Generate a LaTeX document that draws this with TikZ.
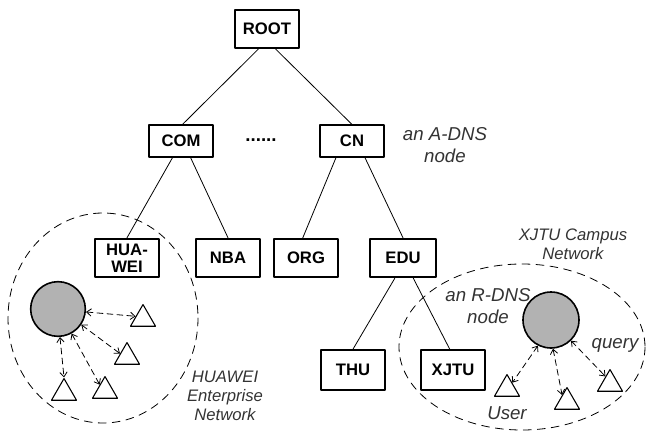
\documentclass[tikz,border=0pt]{standalone}
\usepackage{fontspec}
\setmainfont{Liberation Sans}
\usepackage{tikz}
\usetikzlibrary{arrows.meta,shapes.geometric}

\tikzset{
  dnsbox/.style={draw,line width=1.3pt,font=\fontsize{12.5}{12.5}\selectfont\bfseries,align=center,inner sep=0pt,minimum width=48pt,minimum height=29pt},
  server/.style={circle,draw,line width=1.2pt,fill=black!30,minimum size=41pt,inner sep=0pt},
  host/.style={regular polygon,regular polygon sides=3,draw,line width=0.8pt,minimum size=21.7pt,inner sep=0pt},
  note/.style={font=\fontsize{14}{16.5}\selectfont\itshape,text=black!80,align=center,inner sep=0pt},
  netnote/.style={font=\fontsize{12.5}{14.3}\selectfont\itshape,text=black!80,align=center,inner sep=0pt},
  query/.style={<->,dash pattern=on 4.5pt off 3pt,line width=0.6pt},
  netline/.style={dash pattern=on 6pt off 4.5pt,line width=0.6pt},
  tree/.style={line width=0.6pt}
}

\begin{document}
\begin{tikzpicture}[line cap=round,line join=round,>={Straight Barb[length=3.5pt,width=5.5pt]},x=0.75pt,y=-0.75pt]
        \useasboundingbox (0,0) rectangle (646,431);
        \draw [netline] (103,318) ellipse [x radius=95,y radius=105];
        \draw [netline] (522,347) ellipse [x radius=123,y radius=83];
        \node [dnsbox,minimum height=28.5pt] (root) at (267,29) {ROOT};
        \node [dnsbox,minimum height=23.5pt] (com) at (181,141) {COM};
        \node [dnsbox,minimum height=23.5pt] (cn) at (352,141) {CN};
        \node [dnsbox] (huawei) at (127,258) {HUA-\\WEI};
        \node [dnsbox] (nba) at (228,258) {NBA};
        \node [dnsbox] (org) at (306,258) {ORG};
        \node [dnsbox,minimum width=49pt] (edu) at (403,258) {EDU};
        \node [dnsbox,minimum height=30pt] (thu) at (353,370) {THU};
        \node [dnsbox,minimum height=30pt] (xjtu) at (453,370) {XJTU};
        \node [font=\fontsize{14}{14}\selectfont\bfseries] (dots) at (261,140) {......};
        \draw [tree] (root.-113) -- (com.85);
        \draw [tree] (root.-67) -- (cn.north);
        \draw [tree] (com.-117) -- (huawei.north);
        \draw [tree] (com.-60) -- (nba.north);
        \draw [tree] (cn.-134) -- (org.99);
        \draw [tree] (cn.-52) -- (edu.north);
        \draw [tree] (edu.-112) -- (thu.north);
        \draw [tree] (edu.-63) -- (xjtu.99);
        \node [server] (hwserver) at (58,309) {};
        \node [host] (t1) at (143,319) {};
        \node [host] (t2) at (127,357) {};
        \node [host] (t3) at (105,391) {};
        \node [host] (t4) at (64,393) {};
        \draw [query] (hwserver.-6) -- (t1.160);
        \draw [query] (hwserver.-34) -- (t2.154);
        \draw [query] (hwserver.-61) -- (t3.130);
        \draw [query] (hwserver.-86) -- (t4.corner 1);
        \node [server,minimum size=42pt] (rdns) at (551,320) {};
        \node [host] (r1) at (507,389) {};
        \node [host] (r2) at (567,402) {};
        \node [host] (r3) at (610,384) {};
        \draw [query] (rdns.-117) -- (r1.50);
        \draw [query] (rdns.-86) -- (r2.125);
        \draw [query] (rdns.-46) -- (r3.121);
        \node [note] (adnslabel) at (445,145) {an A-DNS\\node};
        \node [note] (rdnslabel) at (488,306) {an R-DNS\\node};
        \node [note] (querylabel) at (615,345) {query};
        \node [note] (userlabel) at (507,413) {User};
        \node [netnote] (hwlabel) at (225,396) {HUAWEI\\Enterprise\\Network};
        \node [netnote] (xjtulabel) at (573,244) {XJTU Campus\\Network};
    \end{tikzpicture}
\end{document}
